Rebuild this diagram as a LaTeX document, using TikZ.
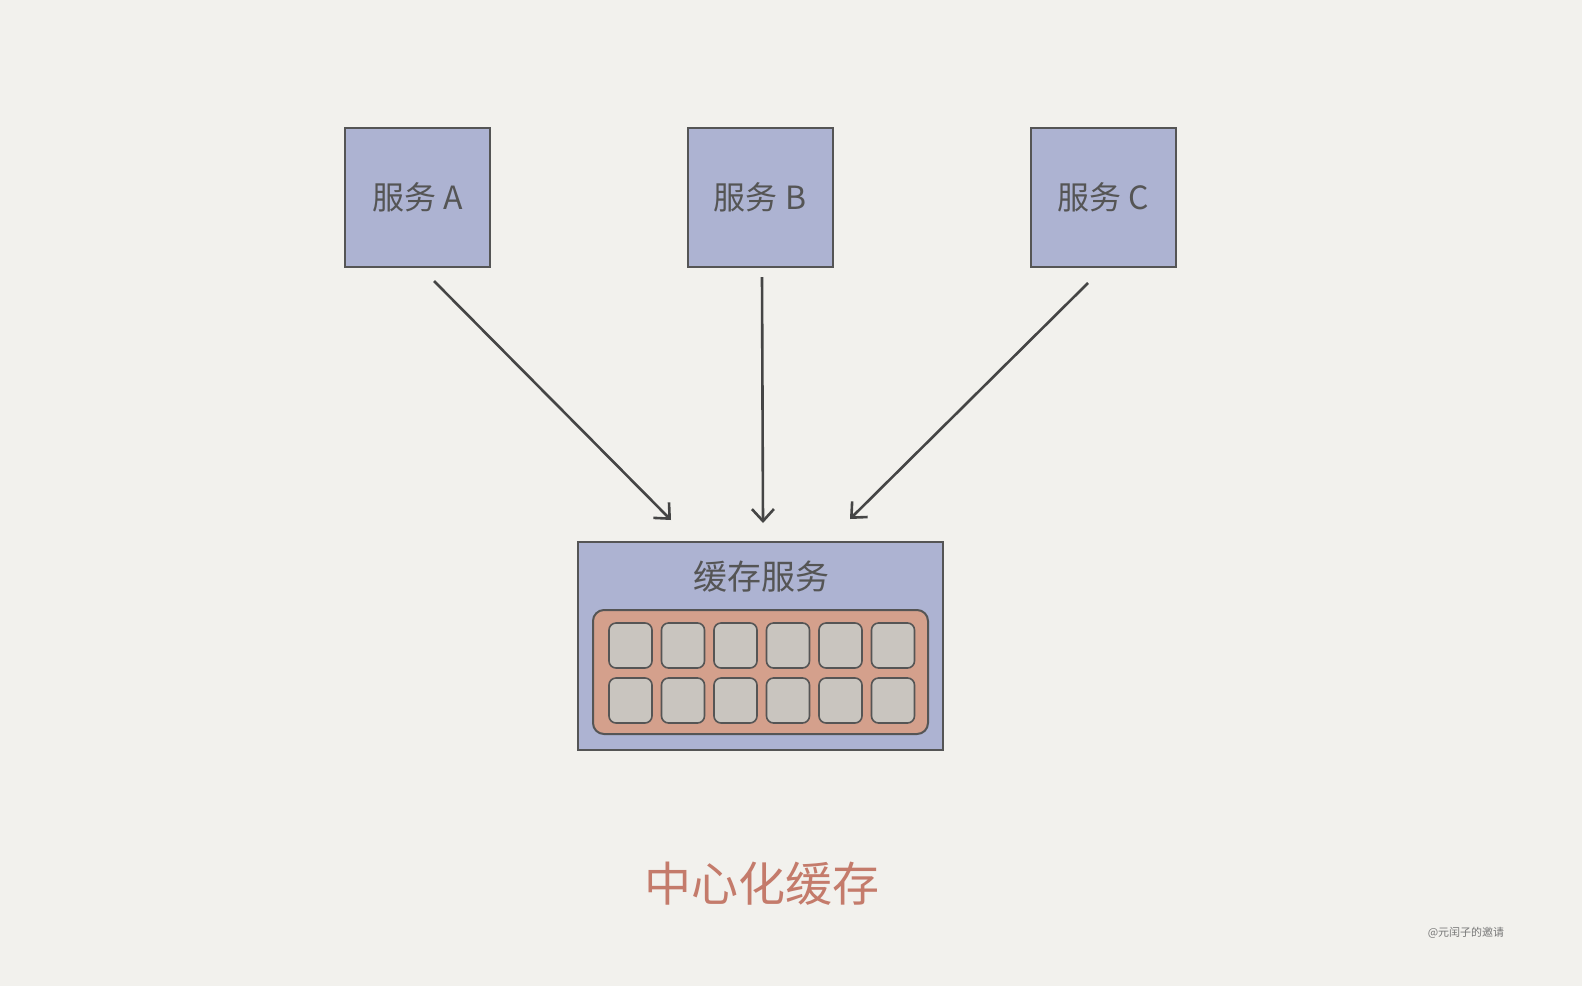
\documentclass[tikz,border=0pt]{standalone}
\usepackage{fontspec}
\newfontfamily\cjk{Noto Sans CJK SC}
\usetikzlibrary{arrows.meta}
\definecolor{bg}{HTML}{F2F1ED}
\definecolor{svc}{HTML}{ADB3D2}
\definecolor{edge}{HTML}{555555}
\definecolor{salmon}{HTML}{D4A08C}
\definecolor{cell}{HTML}{C9C5BF}
\definecolor{txt}{HTML}{555555}
\definecolor{cap}{HTML}{C47B6B}
\definecolor{arr}{HTML}{454545}
\tikzset{
  svcbox/.style={draw=edge, line width=2pt, fill=svc, minimum width=145pt, minimum height=139pt, inner sep=0pt, font=\cjk\fontsize{32}{36}\selectfont, text=txt},
  cellbox/.style={draw=edge, line width=1.6pt, fill=cell, rounded corners=7pt, minimum width=43pt, minimum height=45pt, inner sep=0pt},
  flow/.style={draw=arr, line width=2.6pt, -{Straight Barb[length=12pt,width=22pt,line width=2.6pt]}},
}
\begin{document}
\begin{tikzpicture}[x=1pt,y=-1pt]
\useasboundingbox (0,0) rectangle (1582,986);
\fill[bg] (0,0) rectangle (1582,986);
\node[svcbox] (A) at (417.5,197.5) {服务 A};
\node[svcbox] (B) at (760,197.5) {服务 B};
\node[svcbox] (C) at (1103,197.5) {服务 C};
\node[draw=edge, line width=2pt, fill=svc, minimum width=365pt, minimum height=208pt, inner sep=0pt] (cache) at (760.5,646) {};
\node[font=\cjk\fontsize{34}{38}\selectfont, text=txt] (ctitle) at (761,577) {缓存服务};
\node[draw=edge, line width=2pt, fill=salmon, rounded corners=11pt, minimum width=335pt, minimum height=124pt, inner sep=0pt] (pool) at (760.5,672) {};
\foreach \i in {0,...,5}{
  \node[cellbox] (r1c\i) at ({630.5+52.5*\i},645.5) {};
  \node[cellbox] (r2c\i) at ({630.5+52.5*\i},700.5) {};
}
\coordinate (a1) at (434,281); \coordinate (a2) at (671,520);
\coordinate (b1) at (762,277); \coordinate (b2) at (763,523);
\coordinate (c1) at (1088,283); \coordinate (c2) at (850,519);
\draw[flow] (a1) -- (a2);
\draw[flow] (b1) -- (b2);
\draw[flow] (c1) -- (c2);
\node[font=\cjk\fontsize{47}{52}\selectfont, text=cap] (caption) at (762,884) {中心化缓存};
\node[font=\cjk\fontsize{11}{13}\selectfont, text=txt!80] (wm) at (1466,933) {@元闰子的邀请};
\end{tikzpicture}
\end{document}
